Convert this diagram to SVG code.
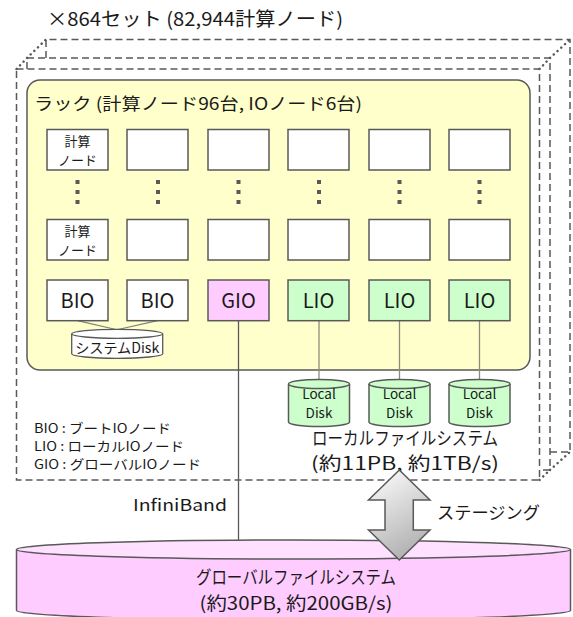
<svg xmlns="http://www.w3.org/2000/svg" width="573" height="617" viewBox="0 0 573 617">
<defs>
<linearGradient id="arrowGrad" x1="0" y1="0" x2="0.4" y2="1">
<stop offset="0" stop-color="#ffffff"/>
<stop offset="1" stop-color="#b4b4b4"/>
</linearGradient>
<style>
text{font-family:"Meiryo UI","Noto Sans CJK JP","Noto Sans",sans-serif;fill:#1a1a1a}
.dash{fill:none;stroke:#595959;stroke-width:1.5;stroke-dasharray:7 4}
.dot{fill:none;stroke:#595959;stroke-width:2.5;stroke-dasharray:0.1 5;stroke-linecap:round}
.node{fill:#ffffff;stroke:#595959;stroke-width:1.5}
.gio{fill:#ffccff;stroke:#595959;stroke-width:1.5}
.lio{fill:#ccffcc;stroke:#595959;stroke-width:1.5}
.io{font-size:20px;text-anchor:middle}
.small{font-size:13px;text-anchor:middle}
.vdot{fill:#595959}
.link{stroke:#595959;stroke-width:1.3;fill:none}
.llink{stroke:#8c8c7a;stroke-width:1.3;fill:none}
.sdlink{stroke:#7f7f7f;stroke-width:1.2;fill:none}
.legend{font-size:13px}
.disk{font-size:13.5px;text-anchor:middle}
</style>
</defs>

<g id="title">
<text x="47" y="26" font-size="19" textLength="296" lengthAdjust="spacingAndGlyphs">×864セット (82,944計算ノード)</text>
</g>

<g id="sets">
<path class="dash" d="M46,58 V39.5 H570 V452 H550"/>
<path class="dash" d="M27,69 V58 H550 V470 H540"/>
<rect class="dash" x="16.5" y="69" width="523" height="411"/>
<path class="dot" d="M27,58 L46,39.5"/>
<path class="dot" d="M550,58 L570,39.5"/>
<path class="dot" d="M550,470 L570,452"/>
<path class="dot" d="M16.5,69 L27,58"/>
<path class="dot" d="M539.5,69 L550,58"/>
<path class="dot" d="M539.5,480 L550,470"/>
</g>

<g id="rack">
<rect x="27" y="80" width="503" height="290" rx="13" fill="#ffffcc" stroke="#595959" stroke-width="1.5"/>
<text x="34" y="110" font-size="17" textLength="328" lengthAdjust="spacingAndGlyphs">ラック (計算ノード96台, IOノード6台)</text>
</g>

<g id="connectors">
<path class="sdlink" d="M77.5,320.7 L116,329.5 M157.5,320.7 L118,329.5"/>
<path class="link" d="M238.5,320.7 V540.5"/>
<path class="llink" d="M319,320.7 V380 M399.5,320.7 V380 M479.5,320.7 V380"/>
</g>

<g id="compute-row1">
<rect class="node" x="47" y="129.5" width="61" height="40.5"/>
<text class="small" x="77.5" y="146">計算</text>
<text class="small" x="77.5" y="165">ノード</text>
<rect class="node" x="127" y="129.5" width="61" height="40.5"/>
<rect class="node" x="208" y="129.5" width="61" height="40.5"/>
<rect class="node" x="288" y="129.5" width="61" height="40.5"/>
<rect class="node" x="369" y="129.5" width="61" height="40.5"/>
<rect class="node" x="449" y="129.5" width="61" height="40.5"/>
</g>

<g id="ellipsis-dots">
<rect class="vdot" x="75.5" y="180" width="4" height="4"/>
<rect class="vdot" x="75.5" y="190" width="4" height="4"/>
<rect class="vdot" x="75.5" y="200" width="4" height="4"/>
<rect class="vdot" x="156" y="180" width="4" height="4"/>
<rect class="vdot" x="156" y="190" width="4" height="4"/>
<rect class="vdot" x="156" y="200" width="4" height="4"/>
<rect class="vdot" x="236.5" y="180" width="4" height="4"/>
<rect class="vdot" x="236.5" y="190" width="4" height="4"/>
<rect class="vdot" x="236.5" y="200" width="4" height="4"/>
<rect class="vdot" x="317" y="180" width="4" height="4"/>
<rect class="vdot" x="317" y="190" width="4" height="4"/>
<rect class="vdot" x="317" y="200" width="4" height="4"/>
<rect class="vdot" x="397.5" y="180" width="4" height="4"/>
<rect class="vdot" x="397.5" y="190" width="4" height="4"/>
<rect class="vdot" x="397.5" y="200" width="4" height="4"/>
<rect class="vdot" x="477.5" y="180" width="4" height="4"/>
<rect class="vdot" x="477.5" y="190" width="4" height="4"/>
<rect class="vdot" x="477.5" y="200" width="4" height="4"/>
</g>

<g id="compute-row2">
<rect class="node" x="47" y="219.5" width="61" height="40.5"/>
<text class="small" x="77.5" y="236">計算</text>
<text class="small" x="77.5" y="255">ノード</text>
<rect class="node" x="127" y="219.5" width="61" height="40.5"/>
<rect class="node" x="208" y="219.5" width="61" height="40.5"/>
<rect class="node" x="288" y="219.5" width="61" height="40.5"/>
<rect class="node" x="369" y="219.5" width="61" height="40.5"/>
<rect class="node" x="449" y="219.5" width="61" height="40.5"/>
</g>

<g id="bio1">
<rect class="node" x="47" y="280" width="61" height="40.7"/>
<text class="io" x="77.5" y="308">BIO</text>
</g>
<g id="bio2">
<rect class="node" x="127" y="280" width="61" height="40.7"/>
<text class="io" x="157.5" y="308">BIO</text>
</g>
<g id="gio">
<rect class="gio" x="208" y="280" width="61" height="40.7"/>
<text class="io" x="238.5" y="308">GIO</text>
</g>
<g id="lio1">
<rect class="lio" x="288" y="280" width="61" height="40.7"/>
<text class="io" x="318.5" y="308">LIO</text>
</g>
<g id="lio2">
<rect class="lio" x="369" y="280" width="61" height="40.7"/>
<text class="io" x="399.5" y="308">LIO</text>
</g>
<g id="lio3">
<rect class="lio" x="449" y="280" width="61" height="40.7"/>
<text class="io" x="479.5" y="308">LIO</text>
</g>

<g id="system-disk">
<path d="M71.7,333.8 V353.8 A45.5,4.5 0 0 0 162.7,353.8 V333.8" fill="#ffffff" stroke="#595959" stroke-width="1.3"/>
<ellipse cx="117.2" cy="333.8" rx="45.5" ry="4.5" fill="#ffffff" stroke="#595959" stroke-width="1.3"/>
<text x="117.2" y="353" font-size="14" text-anchor="middle" textLength="84" lengthAdjust="spacingAndGlyphs">システムDisk</text>
</g>

<g id="local-disk1">
<path d="M288.5,384 V422 A30.5,4.5 0 0 0 349.5,422 V384" fill="#ccffcc" stroke="#595959" stroke-width="1.5"/>
<ellipse cx="319" cy="384" rx="30.5" ry="4.5" fill="#ccffcc" stroke="#595959" stroke-width="1.5"/>
<text class="disk" x="319" y="399">Local</text>
<text class="disk" x="319" y="418">Disk</text>
</g>
<g id="local-disk2">
<path d="M369,384 V422 A30.5,4.5 0 0 0 430,422 V384" fill="#ccffcc" stroke="#595959" stroke-width="1.5"/>
<ellipse cx="399.5" cy="384" rx="30.5" ry="4.5" fill="#ccffcc" stroke="#595959" stroke-width="1.5"/>
<text class="disk" x="399.5" y="399">Local</text>
<text class="disk" x="399.5" y="418">Disk</text>
</g>
<g id="local-disk3">
<path d="M449,384 V422 A30.5,4.5 0 0 0 510,422 V384" fill="#ccffcc" stroke="#595959" stroke-width="1.5"/>
<ellipse cx="479.5" cy="384" rx="30.5" ry="4.5" fill="#ccffcc" stroke="#595959" stroke-width="1.5"/>
<text class="disk" x="479.5" y="399">Local</text>
<text class="disk" x="479.5" y="418">Disk</text>
</g>

<g id="legend">
<text class="legend" x="34" y="433" textLength="137" lengthAdjust="spacingAndGlyphs">BIO : ブートIOノード</text>
<text class="legend" x="34" y="451" textLength="150" lengthAdjust="spacingAndGlyphs">LIO : ローカルIOノード</text>
<text class="legend" x="34" y="469" textLength="167" lengthAdjust="spacingAndGlyphs">GIO : グローバルIOノード</text>
</g>

<g id="local-fs-label">
<text x="405" y="445" font-size="18" text-anchor="middle" textLength="186" lengthAdjust="spacingAndGlyphs">ローカルファイルシステム</text>
<text x="405" y="470" font-size="18" text-anchor="middle" textLength="188" lengthAdjust="spacingAndGlyphs">(約11PB, 約1TB/s)</text>
</g>

<g id="infiniband-label">
<text x="133" y="511" font-size="16" textLength="94" lengthAdjust="spacingAndGlyphs">InfiniBand</text>
</g>

<g id="global-fs">
<path d="M16.5,549.5 V610.5 A277,9.5 0 0 0 570.5,610.5 V549.5" fill="#ffccff" stroke="#595959" stroke-width="1.5"/>
<ellipse cx="293.5" cy="549.5" rx="277" ry="9.5" fill="#ffe0ff" stroke="#595959" stroke-width="1.5"/>
<text x="296" y="584" font-size="18" text-anchor="middle" textLength="200" lengthAdjust="spacingAndGlyphs">グローバルファイルシステム</text>
<text x="296" y="610" font-size="18" text-anchor="middle" textLength="193" lengthAdjust="spacingAndGlyphs">(約30PB, 約200GB/s)</text>
</g>

<g id="staging">
<path d="M399.3,470 L430,500 L413.3,500 L413.3,530 L430,530 L399.3,560 L368.5,530 L385,530 L385,500 L368.5,500 Z" fill="url(#arrowGrad)" stroke="#595959" stroke-width="1.5" stroke-linejoin="miter"/>
<text x="437" y="519" font-size="17" textLength="103" lengthAdjust="spacingAndGlyphs">ステージング</text>
</g>
</svg>
